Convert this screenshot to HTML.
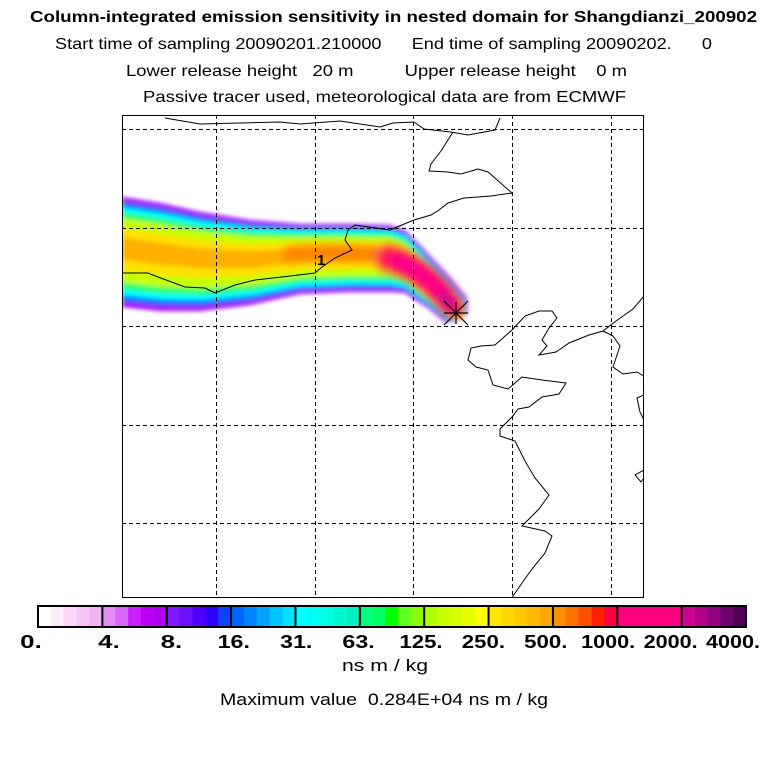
<!DOCTYPE html>
<html><head><meta charset="utf-8"><style>
html,body{margin:0;padding:0;background:#fff;}
svg{display:block;font-family:"Liberation Sans",sans-serif;}
text{white-space:pre;}
</style></head><body>
<svg id="s" width="768" height="768" viewBox="0 0 768 768" xml:space="preserve">
<defs>
<filter id="bl" x="-10%" y="-20%" width="120%" height="140%"><feGaussianBlur stdDeviation="2"/></filter>
<filter id="bl2" x="-20%" y="-30%" width="140%" height="160%"><feGaussianBlur stdDeviation="5"/></filter>
<clipPath id="mapclip"><rect x="122" y="115" width="522" height="483"/></clipPath>
</defs>
<g>
<text x="30" y="22" font-size="16" font-weight="bold" textLength="727" lengthAdjust="spacingAndGlyphs">Column-integrated emission sensitivity in nested domain for Shangdianzi_200902</text>
<text x="55" y="49" font-size="16" textLength="657" lengthAdjust="spacingAndGlyphs">Start time of sampling 20090201.210000      End time of sampling 20090202.      0</text>
<text x="126" y="76" font-size="16" textLength="501" lengthAdjust="spacingAndGlyphs">Lower release height   20 m          Upper release height    0 m</text>
<text x="143" y="102" font-size="16" textLength="483" lengthAdjust="spacingAndGlyphs">Passive tracer used, meteorological data are from ECMWF</text>
</g>
<g id="map" clip-path="url(#mapclip)">
<g id="plume"></g>
<g id="grid" stroke="#000" stroke-width="1" stroke-dasharray="4,3"></g>
<g id="coast" fill="none" stroke="#000" stroke-width="1"></g>
<text x="317" y="265" font-size="15" font-weight="bold">1</text>
<g stroke="#000" stroke-width="1.2">
<line x1="456" y1="302" x2="456" y2="324"/><line x1="444" y1="313" x2="468" y2="313"/>
<line x1="444" y1="301" x2="468" y2="325"/><line x1="444" y1="325" x2="468" y2="301"/>
</g>
</g>
<rect x="122.5" y="115.5" width="521" height="482" fill="none" stroke="#000" stroke-width="1"/>
<g id="cbar"></g>
<text x="342" y="671" font-size="17" textLength="86" lengthAdjust="spacingAndGlyphs">ns m / kg</text>
<text x="220" y="705" font-size="17" textLength="328" lengthAdjust="spacingAndGlyphs">Maximum value  0.284E+04 ns m / kg</text>
</svg>
<script>
const NS="http://www.w3.org/2000/svg";
const tickLabels=["0.","4.","8.","16.","31.","63.","125.","250.","500.","1000.","2000.","4000."];
const segColors=[
["#ffffff","#fdeafb","#fad6f8","#f6c4f5","#f0b2f2"],
["#e08cf2","#d866f6","#ca20fa","#bc00f6","#b000f2"],
["#8018ff","#6a10ff","#5000ff","#3000ff","#1040ff"],
["#0064ff","#0084ff","#00a4ff","#00c4ff","#00e0ff"],
["#00ffff","#00fff0","#00ffe0","#00f8d0","#00f0c0"],
["#00ff80","#00ff60","#00ff00","#60ff20","#88ff00"],
["#b0ff00","#c8ff00","#d8ff00","#e8ff00","#ffff00"],
["#ffe800","#ffd800","#ffc800","#ffb800","#ffa800"],
["#ff9000","#ff7000","#ff5000","#ff2000","#ff0040"],
["#ff0080","#ff0080","#ff0080","#ff0080","#ff0080"],
["#d00090","#b00088","#900080","#700070","#500050"]];
const gridX=[216,315,413,512,611];
const gridY=[129,228,326,425,523];
function mk(tag,attrs,parent){const e=document.createElementNS(NS,tag);for(const k in attrs)e.setAttribute(k,attrs[k]);parent.appendChild(e);return e;}
const cb=document.getElementById('cbar');
const x0=38,x1=746,y0=606,h=21,nSeg=segColors.length;
const segW=(x1-x0)/nSeg;
segColors.forEach((cols,i)=>{cols.forEach((c,j)=>{
 const r=mk('rect',{x:x0+i*segW+j*segW/cols.length,y:y0,width:segW/cols.length+0.5,height:h,fill:c},cb);
 
 
});});
for(let i=0;i<=nSeg;i++){const l=mk('line',{x1:x0+i*segW,x2:x0+i*segW,y1:y0,y2:y0+h,stroke:'#000','stroke-width':2},cb);
 
 }
const fr=mk('rect',{x:x0,y:y0,width:x1-x0,height:h,fill:'none',stroke:'#000','stroke-width':2},cb);


tickLabels.forEach((t,i)=>{
 const cx=i==0?31:109+(i-1)*62.4;
 const w=t.length*10.8;
 const tx=mk('text',{x:cx-w/2,y:648,'font-size':18,'font-weight':'bold',textLength:w,lengthAdjust:'spacingAndGlyphs'},cb);tx.textContent=t;
 
 });
const g=document.getElementById('grid');
gridX.forEach(x=>{const l=mk('line',{x1:x+.5,x2:x+.5,y1:115,y2:598},g);});
gridY.forEach(y=>{const l=mk('line',{x1:122,x2:644,y1:y+.5,y2:y+.5},g);});
const coastLines=[
"165,118 200,124 240,123 280,122 300,124 340,121 380,127 393,123 414,122 424,129 451,132 468,135 495,130 500,118",
"453,132 441,151 431,164 429,171 448,172 461,174 478,169 488,172 512,193 491,196 464,198 448,203 439,210 431,215 414,220 397,227 390,230 355,225 348,230 345,240 352,250 335,258 322,267 315,273 282,277 255,280 235,285 215,293 205,288 185,287 158,277 148,273 122,273",
"644,296 633,309 616,321 603,331 589,335 569,343 556,352 539,355 547,346 542,340 549,328 557,318 552,311 539,311 525,316 512,330 495,345 481,346 471,348 468,360 476,367 488,370 493,385 508,389 522,377 542,380 566,383 559,394 542,397 529,407 518,409 512,417 500,429 500,436 515,441 525,461 535,478 549,495 539,509 522,526 545,531 552,536 545,553 532,569 522,583 513,596 508,605",
"603,331 613,336 620,346 613,367 623,374 637,372 647,378",
"644,395 637,398 640,412 644,420",
"644,470 635,475 641,482 644,478"];
const co=document.getElementById('coast');
coastLines.forEach(p=>{const l=mk('polyline',{points:p},co);});
const plumeEdges=[[122,197,122,307],[160,203,160,311],[200,212,200,311],[250,220,250,305],[300,224,300,294],[350,224,350,292],[390,225,390,292],[405,230,405,293],[420,245,415,300],[445,272,428,308],[467,298,445,322],[467,315,455,322]];
const layerF=[1,0.9,0.8,0.7,0.58,0.38,0.2];
const layerC=["#a000ff","#0070ff","#00ffff","#30ff70","#c8ff00","#ffe000","#ffb000"];
const pl=document.getElementById('plume');
const pg=mk('g',{filter:'url(#bl)'},pl);
layerF.forEach((f,k)=>{
 const top=[],bot=[];
 plumeEdges.forEach(e=>{const cx=(e[0]+e[2])/2,cy=(e[1]+e[3])/2+(e[0]<400?-4:0);
  top.push((cx+f*(e[0]-cx)).toFixed(1)+','+(cy+f*(e[1]-cy)).toFixed(1));
  bot.push((cx+f*(e[2]-cx)).toFixed(1)+','+(cy+f*(e[3]-cy)).toFixed(1));});
 const p=mk('polygon',{points:top.concat(bot.reverse()).join(' '),fill:layerC[k]},pg);
 
 
});
const hg=mk('g',{filter:'url(#bl2)',fill:'none','stroke-linecap':'round'},pl);
const h1=mk('path',{d:'M290,254 Q340,250 395,256',stroke:'#ff8000','stroke-width':14},hg);

const h2=mk('path',{d:'M388,258 Q425,268 452,306',stroke:'#ff1060','stroke-width':24},hg);

const h3=mk('path',{d:'M400,262 Q428,274 450,304',stroke:'#ff0090','stroke-width':15},hg);

const h4=mk('path',{d:'M442,296 L452,306',stroke:'#a01090','stroke-width':8},hg);

</script>
</body></html>
